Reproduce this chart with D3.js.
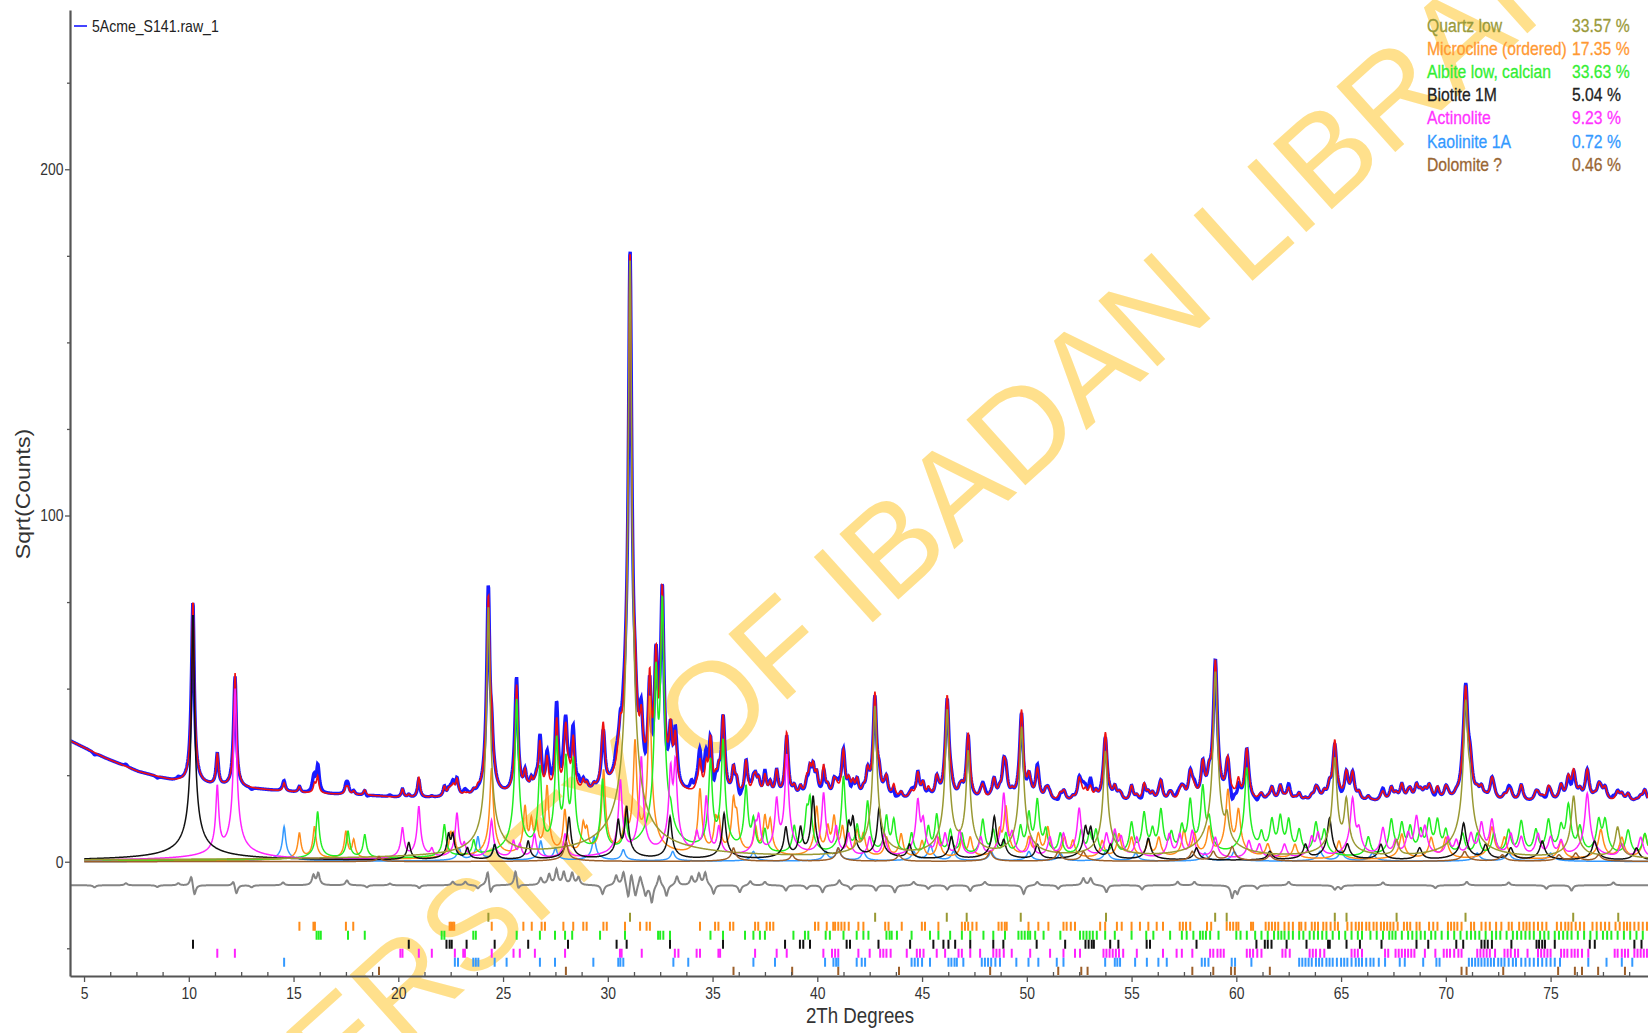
<!DOCTYPE html>
<html>
<head>
<meta charset="utf-8">
<script src="https://cdn.jsdelivr.net/npm/d3@7"></script>
<style>
  body { margin: 0; background: #fff; }
  svg { display: block; }
  text { font-family: "Liberation Sans", Arial, sans-serif; }
</style>
</head>
<body>
<svg id="chart" width="1648" height="1033"></svg>
<script>
// ---- data (2Th degrees, sqrt(counts)) ----
const xTicks = [5, 10, 15, 20, 25, 30, 35, 40, 45, 50, 55, 60, 65, 70, 75];
const yTicks = [0, 100, 200];

// background knots of the fit
const bgPos = [4.33, 5, 6, 7.6, 9.2, 11.1, 13.1, 15.5, 18.7, 20.3, 23, 26, 30, 35, 40, 45, 50, 55, 60, 65, 70, 75, 79.65];
const bgVal = [35.0, 33.0, 30.0, 26.0, 23.4, 21.9, 21.0, 19.8, 19.0, 18.3, 18.3, 18.8, 18.8, 18.5, 18.0, 17.5, 17.2, 16.8, 17.0, 17.0, 17.0, 17.0, 17.0];

// peaks per phase: [position, height]
const quartzPeaks = [[24.3, 74], [31.06, 175], [41.9, 4], [42.75, 45], [46.2, 44], [47.2, 32], [49.75, 39], [53.75, 32],
  [59.0, 55], [59.55, 12], [64.7, 30], [65.25, 18], [67.65, 6], [70.95, 46], [71.15, 20], [76.1, 19], [78.2, 10]];

const microclinePeaks = [[15.28, 8.3], [16.0, 10.2], [17.5, 8.8], [17.87, 6.4], [22.5, 8], [22.65, 8], [24.45, 27],
  [26.05, 16], [26.35, 12], [26.6, 11], [27.1, 22], [27.95, 15], [28.83, 11], [29.0, 9], [29.8, 26.6], [30.85, 14],
  [31.3, 35], [32.0, 48], [34.4, 21], [35.15, 12], [35.3, 12], [36.0, 18], [36.15, 13], [37.05, 10], [37.5, 13],
  [37.75, 12], [39.97, 16], [40.5, 10], [40.8, 13], [41.2, 10], [41.9, 9], [42.2, 8], [43.3, 7], [44.0, 8], [45.0, 6],
  [45.8, 7], [46.9, 6], [47.3, 7], [48.7, 9], [49.0, 16], [50.1, 7], [50.55, 8], [51.0, 10], [51.8, 7], [52.2, 6],
  [53.6, 6], [54.4, 8], [55.0, 7], [55.8, 6], [56.3, 7], [57.5, 9], [58.0, 8], [58.7, 10], [59.6, 20.8], [60.1, 15],
  [61.5, 5], [62.8, 5], [64.9, 6], [67.9, 8], [69.3, 7], [70.0, 7], [72.2, 10], [72.8, 7], [75.5, 6], [77.4, 9.3],
  [78.4, 7], [79.5, 8]];

const albitePeaks = [[16.15, 14.5], [17.6, 8.8], [18.4, 7.8], [22.2, 10.7], [23.6, 6], [25.65, 47], [26.76, 27.5],
  [27.56, 36], [28.0, 30], [28.35, 29.5], [29.75, 23.7], [30.85, 12], [32.3, 55], [32.6, 76], [33.0, 10], [34.9, 29.5],
  [35.5, 35.3], [36.6, 21.8], [36.95, 12], [37.5, 9], [38.9, 10], [39.5, 14], [39.65, 18], [41.25, 24.7], [41.9, 10],
  [42.4, 17.4], [43.3, 13.1], [43.65, 12.1], [44.5, 8], [45.3, 10], [45.7, 13.6], [46.35, 9], [46.9, 8], [47.9, 12.1],
  [48.4, 9], [49.0, 8], [49.7, 10], [50.1, 14], [50.5, 17.9], [50.9, 9], [51.6, 8], [52.6, 9], [53.0, 8], [53.3, 9],
  [54.2, 8], [55.0, 11.2], [55.6, 14.1], [56.0, 9], [56.4, 15], [56.9, 8], [57.4, 10], [57.8, 17.9], [58.4, 21.8],
  [58.7, 12], [60.5, 27.1], [61.2, 8], [61.7, 12], [62.1, 13], [62.5, 12], [63.0, 9], [63.8, 11.2], [64.2, 9],
  [66.3, 7], [67.4, 12.1], [67.9, 11], [68.3, 10], [68.8, 9], [69.2, 12], [69.6, 12], [70.0, 9], [70.8, 8], [71.5, 8],
  [72.3, 8], [73.0, 9], [73.6, 11.7], [74.3, 9], [74.9, 12], [75.5, 10], [75.85, 16.5], [76.4, 10], [77.3, 12],
  [77.6, 12], [78.7, 9], [79.5, 8]];

const biotitePeaks = [[10.2, 72], [20.5, 5.6], [22.4, 8], [22.6, 8], [23.3, 4], [24.6, 5], [26.2, 6], [28.15, 13],
  [30.5, 12], [30.9, 16], [32.97, 13], [35.55, 14], [38.5, 10], [39.2, 10], [39.8, 19], [41.5, 11], [41.7, 12.6],
  [42.95, 15.5], [44.4, 5], [46.4, 7.3], [48.45, 13.1], [48.9, 6], [50.5, 5], [52.8, 10], [53.05, 9.7], [54.0, 5],
  [55.8, 6.8], [58.1, 4], [61.6, 3], [63.3, 5], [64.45, 12.6], [65.3, 5], [66.9, 5], [68.75, 4], [70.85, 11.2],
  [71.9, 5], [73.1, 4], [74.6, 6], [77.1, 6], [79.1, 4]];

const actinolitePeaks = [[11.36, 22], [12.21, 50], [20.2, 9.8], [20.98, 16], [21.6, 3.5], [22.8, 14.1],
  [23.15, 5], [24.45, 12], [25.5, 6], [25.8, 5], [26.5, 8], [27.96, 8], [30.6, 23.7], [31.6, 30.4], [33.0, 27],
  [33.22, 29], [34.25, 8], [34.7, 18.9], [35.3, 10], [37.05, 10], [37.2, 13], [38.06, 18], [38.54, 31], [40.3, 19.9],
  [40.9, 10], [41.5, 8], [42.5, 7], [43.2, 8], [44.8, 17.9], [45.05, 12], [45.7, 7], [46.1, 8], [46.8, 9], [47.8, 7],
  [48.9, 19.8], [49.3, 8], [50.2, 7], [51.1, 7], [51.75, 8], [52.5, 15.5], [53.8, 8], [54.2, 9], [54.5, 7],
  [55.25, 7], [56.8, 8], [57.3, 8], [57.9, 9], [59.0, 7], [60.6, 6], [61.1, 5], [62.3, 5], [63.6, 7], [63.9, 8.3],
  [65.55, 18.4], [65.85, 9], [67.0, 9.7], [67.6, 6], [68.2, 8], [68.6, 13], [69.0, 10], [70.1, 7], [70.5, 6],
  [71.2, 8], [71.7, 11.2], [72.2, 12.1], [73.1, 8], [73.6, 7], [74.4, 8], [75.0, 7], [75.5, 6], [76.75, 19.8],
  [78.4, 5], [79.3, 7]];

const kaolinitePeaks = [[14.55, 10.2], [22.9, 4], [23.8, 7.3], [24.6, 5], [26.8, 6], [27.5, 4], [29.34, 7.3],
  [30.74, 3.5], [33.1, 3], [36.95, 3], [40.4, 3], [41.0, 4], [42.2, 3], [44.6, 3], [45.4, 5], [46.5, 3], [48.3, 3],
  [50.1, 3], [51.6, 2.5], [53.8, 3.5], [55.2, 2.5], [58.5, 2.5], [59.9, 3], [64.0, 3], [65.0, 3], [66.5, 2.5],
  [71.5, 2.5], [73.0, 2.5], [75.0, 2.5]];

const dolomitePeaks = [[19.08, 1.5], [28.0, 6], [36.0, 4], [38.8, 2], [41.0, 4], [43.9, 2], [48.25, 3], [51.5, 3],
  [52.7, 3], [57.9, 3], [58.9, 3], [59.8, 4.4], [61.6, 2], [70.9, 3], [72.7, 2], [75.4, 2], [76.2, 2.5], [77.3, 2]];

// reflection positions (tick rows under the pattern)
const quartzTicks = [24.3, 31.06, 42.76, 46.18, 47.13, 49.71, 53.78, 58.99, 59.54, 64.7, 65.26, 67.65, 70.94, 76.08, 78.23];
const microclineTicks = [15.28, 15.95, 16.02, 17.5, 17.85, 22.45, 22.52, 22.6, 22.67, 24.46, 25.97, 26.37, 26.84, 27.0,
  27.88, 28.35, 28.83, 28.99, 29.79, 29.95, 30.82, 31.54, 31.85, 32.01, 34.4, 35.12, 35.28, 35.83, 35.99, 37.03, 37.18,
  37.58, 37.74, 37.9, 39.89, 40.05, 40.45, 40.76, 40.85, 41.0, 41.15, 41.3, 41.5, 41.96, 42.2, 43.24, 43.4, 44.03,
  44.99, 45.14, 45.78, 46.9, 47.05, 47.2, 47.4, 47.6, 48.65, 48.8, 48.95, 49.04, 50.08, 50.55, 51.03, 51.75, 51.9,
  52.1, 52.3, 53.5, 53.74, 54.3, 54.53, 55.0, 55.4, 55.8, 56.2, 56.5, 57.3, 57.45, 57.6, 57.8, 58.6, 58.8, 59.54,
  59.7, 59.85, 60.0, 60.1, 60.7, 60.8, 61.4, 61.55, 61.7, 61.85, 62.0, 62.3, 62.5, 62.7, 63.0, 63.1, 63.3, 63.6,
  63.75, 63.9, 64.15, 64.3, 64.5, 64.7, 64.85, 65.3, 65.5, 65.7, 65.85, 66.0, 66.2, 66.35, 66.55, 66.7, 66.9, 67.05,
  67.2, 67.35, 67.5, 67.7, 68.0, 68.15, 68.3, 68.6, 68.75, 69.2, 69.4, 69.6, 70.1, 70.25, 70.4, 70.55, 70.75, 71.2,
  71.35, 71.7, 71.9, 72.1, 72.4, 72.65, 73.0, 73.15, 73.5, 73.7, 73.85, 74.0, 74.2, 74.4, 74.6, 74.8, 75.3, 75.5,
  75.7, 75.85, 76.0, 76.2, 76.4, 76.6, 77.0, 77.2, 77.4, 77.6, 77.8, 78.1, 78.3, 78.5, 78.65, 78.8, 79.0, 79.2,
  79.4, 79.6];
const albiteTicks = [16.1, 16.2, 16.3, 17.6, 18.4, 22.07, 22.2, 23.58, 23.7, 25.65, 26.76, 27.48, 27.96, 28.3, 29.63,
  30.82, 32.4, 32.5, 32.65, 32.97, 34.9, 35.5, 36.55, 36.95, 37.26, 37.5, 38.86, 39.41, 39.57, 40.4, 40.6, 41.25,
  41.88, 42.2, 42.44, 43.3, 43.45, 43.55, 43.8, 44.5, 45.38, 45.78, 46.34, 46.9, 47.3, 47.93, 48.4, 48.96, 49.6,
  49.75, 49.9, 50.05, 50.16, 50.4, 50.8, 51.6, 52.54, 52.7, 52.85, 53.0, 53.15, 53.34, 53.74, 54.2, 55.0, 55.7,
  56.04, 56.84, 57.4, 57.63, 57.95, 58.27, 58.4, 58.55, 58.75, 59.15, 60.0, 60.2, 60.5, 60.9, 61.2, 61.5, 61.8,
  62.0, 62.15, 62.3, 62.5, 62.7, 63.0, 63.2, 63.5, 63.7, 63.9, 64.1, 64.3, 64.6, 64.9, 65.2, 65.5, 65.8, 66.0,
  66.4, 66.7, 67.0, 67.3, 67.45, 67.6, 67.9, 68.2, 68.4, 68.6, 68.8, 69.0, 69.3, 69.5, 69.8, 70.1, 70.4, 70.7,
  71.0, 71.2, 71.4, 71.6, 71.9, 72.2, 72.4, 72.6, 72.9, 73.2, 73.4, 73.6, 73.8, 74.0, 74.2, 74.5, 74.7, 74.9,
  75.2, 75.4, 75.6, 75.8, 76.0, 76.3, 76.6, 76.9, 77.2, 77.5, 77.7, 77.9, 78.2, 78.5, 78.8, 79.1, 79.4];
const biotiteTicks = [10.2, 20.5, 22.3, 22.45, 22.55, 23.26, 24.6, 26.2, 28.1, 30.42, 30.9, 32.97, 35.5, 38.46, 39.17,
  39.33, 39.65, 41.4, 41.56, 42.92, 44.43, 45.54, 46.02, 46.26, 46.58, 47.3, 48.4, 48.88, 50.47, 51.83, 52.8, 52.95,
  53.1, 53.2, 53.98, 54.37, 55.72, 55.88, 58.1, 60.96, 61.36, 61.5, 61.68, 62.4, 63.35, 64.38, 64.46, 65.26, 65.9,
  66.93, 68.6, 69.16, 70.5, 70.83, 71.7, 71.85, 72.0, 72.2, 73.13, 74.33, 74.45, 74.6, 74.73, 75.2, 76.87, 77.11,
  79.0, 79.34];
const actinoliteTicks = [11.36, 12.2, 20.1, 20.2, 20.98, 21.6, 22.7, 23.1, 23.18, 24.46, 25.5, 25.8, 26.52, 27.96,
  30.58, 30.66, 31.62, 33.2, 33.37, 34.24, 34.4, 35.28, 35.36, 37.03, 38.06, 38.54, 40.29, 40.7, 40.85, 41.0, 41.96,
  42.5, 43.0, 43.15, 43.3, 43.5, 44.27, 44.75, 44.9, 45.07, 45.7, 46.1, 46.74, 46.9, 47.3, 47.77, 48.4, 48.55, 48.7,
  48.9, 49.28, 50.16, 51.11, 51.75, 52.3, 52.54, 53.66, 53.8, 53.95, 54.1, 54.25, 54.4, 54.6, 55.25, 56.5, 57.15,
  57.4, 57.9, 58.75, 58.9, 59.1, 59.25, 59.4, 60.5, 60.65, 60.8, 61.0, 61.2, 62.2, 62.35, 62.55, 63.5, 63.65, 63.8,
  64.0, 64.2, 65.5, 65.65, 65.8, 66.0, 67.1, 67.25, 67.6, 67.75, 67.9, 68.05, 68.2, 68.35, 68.5, 69.0, 69.5, 69.9,
  70.05, 70.2, 70.4, 70.6, 70.75, 71.5, 71.65, 71.8, 71.95, 72.1, 72.35, 72.8, 72.95, 73.1, 73.3, 73.45, 73.9, 74.4,
  74.55, 74.7, 74.85, 75.0, 75.5, 75.65, 75.8, 76.0, 76.15, 76.3, 76.5, 76.8, 78.06, 78.2, 78.4, 78.55, 78.7, 79.0,
  79.15, 79.3, 79.45, 79.6];
const kaoliniteTicks = [14.55, 22.7, 22.85, 23.58, 23.7, 23.82, 24.6, 25.17, 26.76, 27.48, 29.31, 30.5, 30.6, 30.74,
  33.13, 33.84, 36.95, 37.98, 40.37, 40.77, 40.9, 41.0, 41.88, 42.12, 42.28, 44.5, 44.65, 44.8, 45.0, 45.38, 46.26,
  46.4, 46.55, 46.66, 46.97, 47.85, 48.0, 48.15, 48.3, 48.5, 48.72, 49.5, 50.08, 50.55, 51.43, 51.75, 53.74, 54.2,
  54.32, 54.45, 55.17, 55.73, 56.28, 56.68, 58.35, 58.5, 58.67, 59.78, 59.94, 60.72, 63.0, 63.15, 63.3, 63.45, 63.6,
  63.8, 63.95, 64.1, 64.3, 64.45, 64.6, 64.8, 65.0, 65.15, 65.3, 65.5, 65.7, 65.85, 66.0, 66.2, 66.4, 66.55, 66.8,
  67.1, 67.8, 68.04, 68.92, 69.55, 69.7, 71.1, 71.25, 71.4, 71.55, 71.7, 71.85, 72.0, 72.15, 72.3, 72.5, 72.65, 72.8,
  73.0, 73.2, 73.35, 73.6, 73.8, 74.0, 74.2, 74.4, 74.6, 74.8, 75.0, 75.2, 75.45, 76.8, 77.67, 78.4, 78.9];
const dolomiteTicks = [19.08, 28.0, 36.0, 38.8, 41.0, 43.9, 48.25, 51.5, 52.6, 52.9, 57.9, 58.9, 59.75, 59.93, 61.6,
  70.75, 70.99, 72.74, 75.36, 76.16, 76.5, 77.27, 78.55];

// difference curve: level and the features seen on it [position, amount]
const diffLevel = -6.8;
const diffFeatures = [[5.5, -0.6], [7.0, 0.6], [8.5, -0.5], [9.5, 0.6], [10.12, 3.0], [10.27, -3.2], [12.13, 1.5],
  [12.27, -2.6], [13.0, -0.6], [14.5, 0.8], [15.95, 2.8], [16.18, 3.4], [17.55, 1.4], [18.5, -0.6], [19.6, 0.5],
  [21.0, -0.8], [22.6, 1.0], [23.2, 1.0], [23.8, -1.0], [24.27, 4.5], [24.4, -3.0], [25.6, 4.5], [25.72, -2.0],
  [26.8, 2.0], [27.2, 3.0], [27.55, 4.4], [27.9, 3.6], [28.3, 3.4], [28.6, 2.2], [29.75, -2.6], [30.4, 2.8],
  [30.75, 4.0], [30.98, -4.5], [31.12, 4.2], [31.32, -3.6], [31.55, 3.0], [31.8, -3.0], [32.1, -5.0], [32.45, 3.0],
  [32.8, -3.2], [33.3, 2.6], [34.0, 2.4], [34.35, 3.2], [34.65, 3.6], [35.05, -2.6], [36.3, -2.0], [36.8, 1.2],
  [37.5, 1.0], [38.5, -1.5], [39.5, -1.0], [40.25, -2.0], [41.05, 1.5], [41.6, -1.2], [42.8, -1.5], [43.7, -2.0],
  [44.6, 1.0], [45.3, -1.0], [46.2, -1.2], [47.3, -1.6], [48.0, 1.0], [49.85, -2.5], [50.5, 1.0], [51.5, -1.0],
  [52.7, 2.0], [53.05, 2.0], [53.8, -2.0], [55.5, -1.2], [57.2, 1.0], [58.0, 1.0], [59.8, -3.5], [60.05, -2.2],
  [61.0, -1.0], [62.5, 1.0], [64.7, -1.2], [65.0, -1.0], [67.0, 0.8], [69.5, -0.8], [71.0, 1.0], [73.0, 0.8],
  [74.8, -1.0], [76.0, -1.5], [78.0, 0.8]];

const phaseNames = ['Quartz low', 'Microcline (ordered)', 'Albite low, calcian', 'Biotite 1M', 'Actinolite', 'Kaolinite 1A', 'Dolomite ?'];
const phasePercents = ['33.57 %', '17.35 %', '33.63 %', '5.04 %', '9.23 %', '0.72 %', '0.46 %'];
const phaseColors = ['#999933', '#ff8c1a', '#22ee22', '#111111', '#ff22ff', '#3399ff', '#9c5f2a'];
const legendColors = ['#9a9a3a', '#ff9933', '#33ee33', '#222222', '#ff33ff', '#3399ff', '#996633'];
const phasePeaks = [quartzPeaks, microclinePeaks, albitePeaks, biotitePeaks, actinolitePeaks, kaolinitePeaks, dolomitePeaks];
const phaseTicks = [quartzTicks, microclineTicks, albiteTicks, biotiteTicks, actinoliteTicks, kaoliniteTicks, dolomiteTicks];
const drawOrder = [5, 1, 2, 4, 3, 0, 6];

const sampleName = '5Acme_S141.raw_1';

// ---- chart ----
const svg = d3.select('#chart');
const x = d3.scaleLinear().domain([4.33, 79.65]).range([70, 1648]);
const y = d3.scaleLinear().domain([-33, 246]).range([976, 10]);
const bg = d3.scaleLinear().domain(bgPos).range(bgVal);

// peak shape: lorentzian in counts, width grows a little with angle
const peakWidth = p => 0.058 + 0.0006 * (p - 5);

const xs = d3.range(4.33, 79.65, 0.02).concat([79.65]);
const counts = phasePeaks.map(peaks => xs.map(t => {
  if (t < 5) return 0;
  let s = 0;
  for (const [p, h] of peaks) {
    const d = (t - p) / peakWidth(p);
    s += h * h / (1 + d * d);
  }
  return s;
}));
const calc = xs.map((t, j) => Math.sqrt(bg(t) ** 2 + d3.sum(counts, c => c[j])));
const diff = xs.map(t => {
  let s = diffLevel;
  for (const [p, a] of diffFeatures) {
    const d = (t - p) / 0.08;
    s += a / (1 + d * d);
  }
  return s;
});
const obs = calc.map((v, j) => v + (diff[j] - diffLevel));

// watermark behind everything
svg.append('text')
  .attr('transform', 'translate(880,616) rotate(-42)')
  .attr('text-anchor', 'middle')
  .attr('font-size', 128)
  .attr('fill', '#ffe08c')
  .text('UNIVERSITY OF IBADAN LIBRARY');

svg.append('clipPath').attr('id', 'plotClip')
  .append('rect').attr('x', 71).attr('y', 10).attr('width', 1577).attr('height', 965);

const plot = svg.append('g').attr('clip-path', 'url(#plotClip)');

const line = d3.line().x(d => x(d[0])).y(d => y(d[1]));

plot.append('path')
  .datum(xs.map((t, j) => [t, obs[j]]))
  .attr('fill', 'none').attr('stroke', '#1a1aff').attr('stroke-width', 3.4)
  .attr('d', line);

plot.append('path')
  .datum(xs.map((t, j) => [t, calc[j]]))
  .attr('fill', 'none').attr('stroke', '#ee1111').attr('stroke-width', 1.6)
  .attr('d', line);

drawOrder.forEach(i => {
  const pts = xs.map((t, j) => [t, Math.sqrt(counts[i][j])]).filter(d => d[0] >= 5);
  plot.append('path')
    .datum(pts)
    .attr('fill', 'none').attr('stroke', phaseColors[i]).attr('stroke-width', 1.5)
    .attr('d', line);
});

plot.append('path')
  .datum(xs.map((t, j) => [t, diff[j]]))
  .attr('fill', 'none').attr('stroke', '#858585').attr('stroke-width', 2)
  .attr('d', line);

// reflection tick rows
const rowTop = y(0) + 51;
phaseTicks.forEach((ticks, i) => {
  plot.append('g').selectAll('line')
    .data(ticks)
    .join('line')
    .attr('x1', d => x(d)).attr('x2', d => x(d))
    .attr('y1', rowTop + i * 9).attr('y2', rowTop + i * 9 + 9)
    .attr('stroke', phaseColors[i]).attr('stroke-width', 2);
});

// axes
const axisColor = '#555';
const xAxis = svg.append('g').attr('transform', 'translate(0,976)')
  .call(d3.axisBottom(x).tickValues(xTicks).tickSize(6).tickSizeOuter(0).tickPadding(5).tickFormat(d3.format('d')));
const xMinor = svg.append('g').attr('transform', 'translate(0,976)')
  .call(d3.axisBottom(x).tickValues(d3.range(6.25, 79.6, 1.25).filter(v => Math.abs(v / 5 - Math.round(v / 5)) > 1e-6))
    .tickSize(-4).tickSizeOuter(0).tickFormat(''));
const yAxis = svg.append('g').attr('transform', 'translate(70,0)')
  .call(d3.axisLeft(y).tickValues(yTicks).tickSize(5).tickSizeOuter(0).tickPadding(3).tickFormat(d3.format('d')));
const yMinor = svg.append('g').attr('transform', 'translate(70,0)')
  .call(d3.axisLeft(y).tickValues([-25, 25, 50, 75, 125, 150, 175, 225]).tickSize(3).tickSizeOuter(0).tickFormat(''));

xMinor.select('.domain').remove();
yMinor.select('.domain').remove();
[xAxis, xMinor, yAxis, yMinor].forEach(g => {
  g.selectAll('.domain').attr('stroke', axisColor).attr('stroke-width', 2.2);
  g.selectAll('.tick line').attr('stroke', axisColor).attr('stroke-width', 1.3);
});
[xAxis, yAxis].forEach(g => {
  g.selectAll('.tick text')
    .attr('font-size', 17)
    .attr('fill', '#333')
    .attr('font-family', '"Liberation Sans", Arial, sans-serif')
    .attr('transform', 'scale(0.82,1)');
});

// axis titles
svg.append('text')
  .attr('transform', 'translate(860,1023) scale(0.85,1)')
  .attr('text-anchor', 'middle').attr('font-size', 22).attr('fill', '#333')
  .text('2Th Degrees');

svg.append('text')
  .attr('transform', 'translate(23,494) rotate(-90) scale(1,0.85)')
  .attr('text-anchor', 'middle').attr('dy', '0.35em').attr('font-size', 23).attr('fill', '#333')
  .text('Sqrt(Counts)');

// sample legend
svg.append('line').attr('x1', 74).attr('x2', 87).attr('y1', 26).attr('y2', 26)
  .attr('stroke', '#4444ff').attr('stroke-width', 2);
svg.append('text')
  .attr('transform', 'translate(92,31.5) scale(0.88,1)')
  .attr('font-size', 16).attr('fill', '#222')
  .text(sampleName);

// phase legend
const legend = svg.append('g');
phaseNames.forEach((name, i) => {
  const by = 31.5 + i * 23.2;
  legend.append('text')
    .attr('transform', `translate(1427,${by}) scale(0.85,1)`)
    .attr('font-size', 18.5).attr('fill', legendColors[i])
    .attr('stroke', legendColors[i]).attr('stroke-width', 0.3)
    .text(name);
  legend.append('text')
    .attr('transform', `translate(1572,${by}) scale(0.85,1)`)
    .attr('font-size', 18.5).attr('fill', legendColors[i])
    .attr('stroke', legendColors[i]).attr('stroke-width', 0.3)
    .text(phasePercents[i]);
});
</script>
</body>
</html>
